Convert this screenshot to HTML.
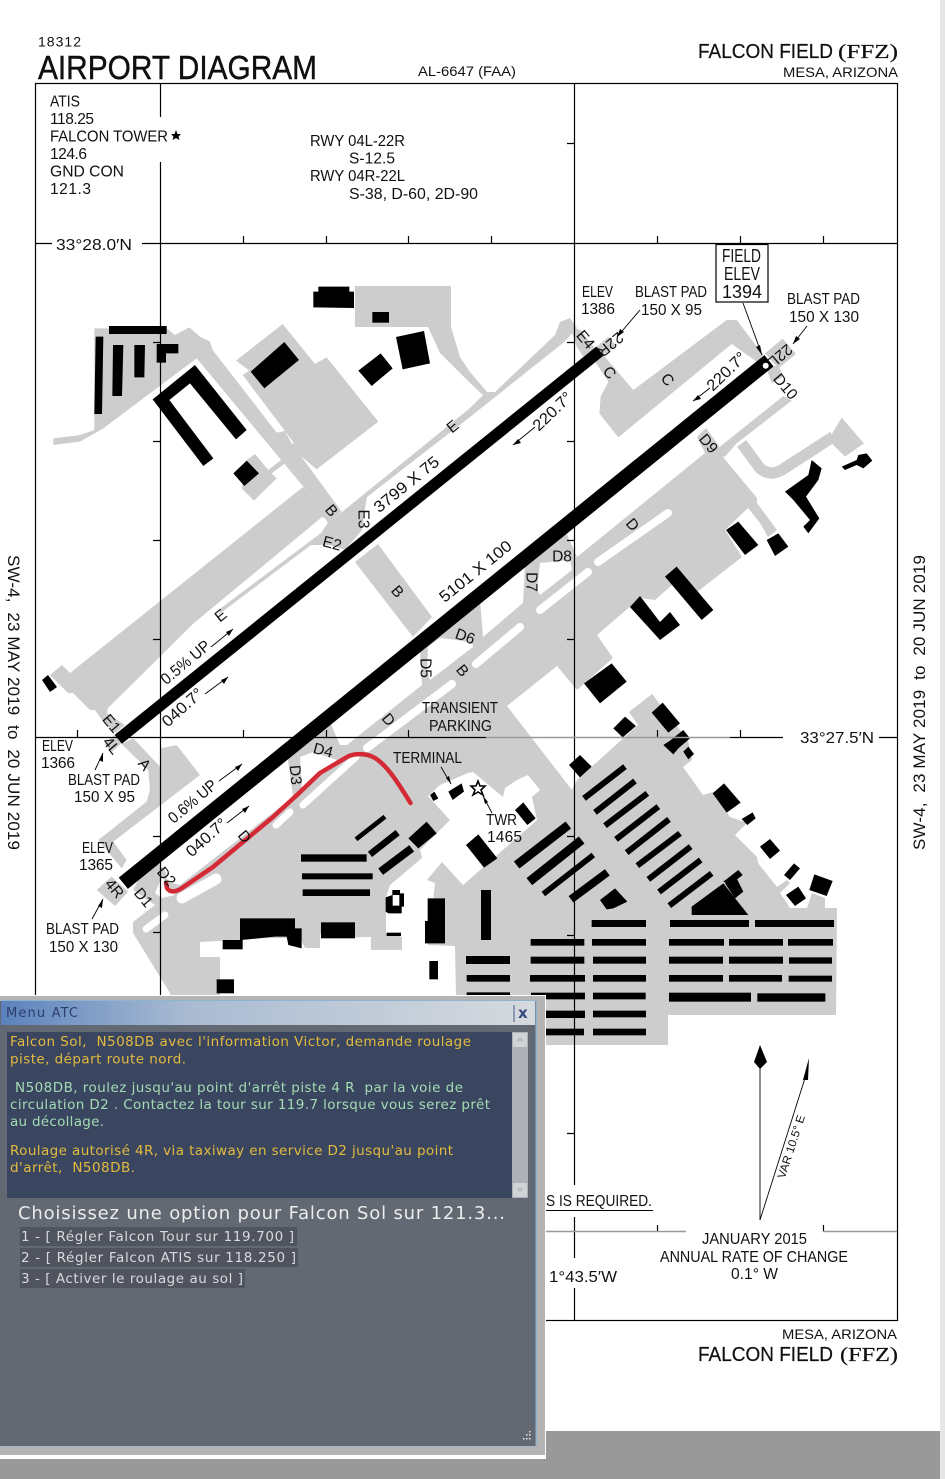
<!DOCTYPE html>
<html><head><meta charset="utf-8"><style>
html,body{margin:0;padding:0;background:#fff}
svg{display:block}
text{font-family:"Liberation Sans",sans-serif;font-size:15.5px;fill:#111}
.c{text-anchor:middle;dominant-baseline:central}
.l{font-size:15.5px;text-anchor:middle;dominant-baseline:central}
.h{stroke:#000;stroke-width:.4}
.d text{font-family:"DejaVu Sans",sans-serif;font-size:13.5px;white-space:pre}
.y{fill:#e3bb3e}.g{fill:#a3dcb4}
.o{fill:#d9dade}
</style></head><body>
<svg xmlns="http://www.w3.org/2000/svg" width="945" height="1479" viewBox="0 0 945 1479">
<defs><linearGradient id="tb" x1="0" x2="1" y1="0" y2="0"><stop offset="0" stop-color="#5b82bd"/><stop offset=".35" stop-color="#a9bbd2"/><stop offset="1" stop-color="#d6dade"/></linearGradient></defs>
<rect width="945" height="1479" fill="#fff"/>
<rect x="940" y="0" width="5" height="1479" fill="#e6e6e6"/>
<rect x="0" y="1431" width="940" height="48" fill="#999"/>

<!-- gray surfaces -->
<g fill="#cdcdcd">
<g transform="translate(0,240) scale(.33333)">
<polygon points="283,265 500,265 525,285 568,262 600,290 630,305 638,330 830,578 855,573 875,610 1025,815 985,850 910,740 590,355 310,565 240,605 160,615 160,595 240,585 283,570"/>
<polygon points="708,362 848,252 945,372 980,352 1135,545 950,688 875,625 880,607 855,573 728,405 748,392"/>
<polygon points="740,660 765,642 805,690 845,658 855,670 815,700 830,715 762,782 725,745"/>
</g>
<polygon points="355,286 451,286 451,327 460,357 470,372 487,392 495,392 555,335 560,322 570,318 577,328 563,343 470,417 367,497 365,508 362,530 345,550 330,545 311,545 218,615 221,608 321,533 328,523 342,512 470,408 483,395 470,383 440,353 428,327 355,327"/>
<polygon points="303,487 70,673 62,665 50,675 68,693 73,693 90,710 95,710 102,720 115,733 125,725 107,713 108,708 194,623 322,517 328,519 327,527 335,525"/>
<polygon points="355,562 378,544 432,617 413,637"/>
<line x1="600" y1="351" x2="612" y2="341" stroke="#cdcdcd" stroke-width="11"/>
<line x1="118" y1="739" x2="108" y2="748" stroke="#cdcdcd" stroke-width="11"/>
<g transform="translate(470,240) scale(.33333)">
<polygon points="375,365 400,345 490,450 770,240 800,240 880,345 860,365 785,312 445,592 388,520 392,470 415,425"/>
<polygon points="300,260 330,270 375,325 340,350 320,320"/>
<polygon points="885,340 938,296 978,342 925,385"/>
<polygon points="890,385 925,375 940,410 905,430"/>
<polygon points="940,468 965,482 800,610 765,650 745,650 735,632"/>
<path d="M815,610 L870,685 Q900,710 935,690 L1090,590" fill="none" stroke="#cdcdcd" stroke-width="34"/>
<polygon points="1115,533 1182,610 1125,650 1075,600"/>
</g>
<g transform="translate(0,620) scale(.33333)">
<polygon points="365,372 400,355 480,440 480,385 530,375 600,465 340,665 380,720 365,745 295,660 440,545 450,510 445,450"/>
<polygon points="290,810 335,770 385,815 345,858"/>
</g>
<polygon points="170,1045 170,993 133,933 133,922 155,905 133,890 142,873 157,862 165,870 168,882 180,885 293,797 288,760 297,748 330,722 340,745 347,745 422,685 420,650 480,600 483,637 523,603 525,565 565,530 577,557 705,453 697,437 706,428 719,446 718,455 723,457 757,498 757,503 777,530 768,537 760,523 748,508 725,530 742,557 697,592 672,585 655,600 640,598 597,635 613,658 577,690 557,666 507,706 572,790 577,780 638,725 629,712 652,694 670,717 680,730 687,735 692,760 683,767 703,795 713,792 730,817 747,823 735,835 757,857 758,863 777,887 787,880 790,883 780,893 790,908 807,908 812,893 825,898 825,908 837,908 836,1015 668,1015 668,1045"/>
</g>

<!-- white islands -->
<g fill="#fff">
<polygon points="450,820 428,796 440,785 468,773 473,772 503,797 505,788 517,780 528,775 540,790 532,797 537,820 528,828 463,885 442,862 427,880 435,883 428,945 455,946 456,1000 220,1000 220,957 200,957 200,942 270,938 300,938 305,948 320,948 320,933 322,938 371,937 371,950 402,950 402,937 386,933 386,897 390,885 422,858 420,850"/>
<polygon points="302,790 300,757 313,752 337,760"/>
<polygon points="428,647 440,638 457,640 472,643 473,647 430,680 427,670"/>
<polygon points="540,563 570,560 572,570 540,595 537,590"/>
<polygon points="155,893 162,877 167,883 175,895 162,898"/>
</g>
<g fill="none" stroke="#fff" stroke-linecap="round">
<path stroke-width="11" d="M182,898 L216,879"/>
<path stroke-width="7" d="M146,929 L165,915"/>
<path stroke-width="7" d="M276,825 L290,812"/>
<path stroke-width="7" d="M303,805 L356,757"/>
<path stroke-width="8" d="M367,748 L452,684"/>
<path stroke-width="8" d="M476,664 L520,627"/>
<path stroke-width="8" d="M540,610 L588,572"/>
<path stroke-width="8" d="M598,562 L668,513"/>
</g>

<!-- black buildings -->
<g fill="#000">
<g transform="translate(0,240) scale(.33333)">
<rect x="327" y="258" width="173" height="24"/>
<polygon points="287,290 310,290 306,522 283,522"/>
<polygon points="339,315 370,315 366,468 337,468"/>
<polygon points="403,315 435,315 433,412 403,412"/>
<polygon points="470,312 535,312 535,340 498,340 498,368 470,368"/>
<polygon points="585,375 740,570 708,598 570,430 508,480 640,655 610,678 458,478"/>
<polygon points="853,306 897,360 793,445 752,395"/>
<polygon points="740,662 777,700 733,738 700,700"/>
<polygon points="955,140 1048,140 1048,155 1062,155 1062,204 940,202 940,155 955,155"/>
<rect x="1117" y="216" width="50" height="32"/>
<polygon points="1142,340 1178,385 1115,438 1075,392"/>
<polygon points="1188,291 1272,273 1290,370 1208,388"/>
</g>
<g transform="translate(470,240) scale(.33333)">
<polygon points="1115,680 1160,660 1165,645 1190,640 1207,662 1180,685 1160,675 1125,690"/>
<polygon points="945,755 1015,705 1025,660 1055,685 1045,720 1008,770 1048,835 1015,880 1000,860 1020,840 970,780"/>
<polygon points="805,845 865,915 825,945 768,870"/>
<polygon points="890,900 925,880 955,920 915,948"/>
<polygon points="620,980 730,1110 695,1140 585,1010"/>
</g>
<polygon points="630,607 640,596 660,622 670,612 680,625 660,640"/>
<polygon points="42,680 48,675 57,687 50,692"/>
<g transform="translate(470,620) scale(.33333)">
<polygon points="425,130 470,185 390,250 342,190"/>
<polygon points="465,290 498,318 458,352 430,325"/>
<polygon points="578,248 630,310 595,338 545,278"/>
<polygon points="640,330 660,355 625,385 610,403 580,375 600,362"/>
<polygon points="655,380 672,402 655,418 640,395"/>
<polygon points="330,405 365,440 330,472 297,435"/>
<polygon points="762,490 812,548 770,578 728,520"/>
<polygon points="848,577 857,595 832,615 815,597"/>
<polygon points="900,657 930,692 900,717 870,680"/>
<polygon points="972,730 990,745 960,780 942,765"/>
<polygon points="985,800 1008,835 975,858 948,825"/>
<polygon points="1033,763 1088,783 1070,828 1018,810"/>
<polygon points="390,840 435,805 472,845 430,865 410,868"/>
<polygon points="135,570 160,547 197,595 172,615"/>
<polygon points="665,860 760,790 835,885 665,885"/>
<polygon points="760,785 805,750 818,765 780,795"/>
<polygon points="765,790 800,775 820,815 795,835"/>
<rect x="33" y="810" width="30" height="150"/>
<g stroke="#000" stroke-width="18" fill="none">
<line x1="342" y1="535" x2="465" y2="440"/><line x1="375" y1="577" x2="495" y2="483"/>
<line x1="405" y1="617" x2="532" y2="520"/><line x1="438" y1="658" x2="565" y2="560"/>
<line x1="470" y1="698" x2="597" y2="598"/><line x1="502" y1="737" x2="630" y2="640"/>
<line x1="535" y1="778" x2="662" y2="680"/><line x1="567" y1="816" x2="692" y2="720"/>
<line x1="598" y1="857" x2="725" y2="760"/>
<line x1="140" y1="735" x2="295" y2="615" stroke-width="27"/>
<line x1="178" y1="785" x2="335" y2="660" stroke-width="27"/>
<line x1="220" y1="822" x2="370" y2="705" stroke-width="17"/>
<line x1="303" y1="838" x2="412" y2="757" stroke-width="24"/>
</g>
<rect x="365" y="900" width="163" height="21"/><rect x="600" y="900" width="237" height="21"/><rect x="855" y="900" width="237" height="21"/>
<rect x="182" y="957" width="161" height="20"/><rect x="366" y="957" width="162" height="20"/><rect x="597" y="957" width="165" height="20"/><rect x="777" y="957" width="162" height="20"/><rect x="954" y="957" width="135" height="20"/>
<rect x="-5" y="1010" width="125" height="21"/><rect x="182" y="1010" width="161" height="21"/><rect x="369" y="1010" width="159" height="21"/><rect x="597" y="1010" width="162" height="21"/><rect x="777" y="1010" width="162" height="21"/><rect x="957" y="1012" width="129" height="19"/>
<rect x="-5" y="1065" width="125" height="20"/><rect x="180" y="1065" width="165" height="20"/><rect x="369" y="1065" width="159" height="20"/><rect x="597" y="1065" width="162" height="20"/><rect x="777" y="1065" width="159" height="20"/><rect x="956" y="1067" width="130" height="18"/>
<rect x="597" y="1118" width="246" height="27"/><rect x="862" y="1120" width="204" height="25"/>
<rect x="183" y="1118" width="162" height="20"/><rect x="369" y="1118" width="158" height="20"/>
<rect x="228" y="1172" width="117" height="22"/><rect x="369" y="1172" width="159" height="20"/>
<rect x="228" y="1226" width="114" height="20"/><rect x="369" y="1226" width="159" height="20"/>
</g>
<g transform="translate(0,620) scale(.33333)">
<rect x="903" y="703" width="197" height="22"/><rect x="906" y="760" width="212" height="18"/><rect x="908" y="808" width="202" height="20"/>
<g stroke="#000" fill="none">
<line x1="1068" y1="658" x2="1155" y2="590" stroke-width="14"/>
<line x1="1110" y1="703" x2="1193" y2="638" stroke-width="20"/>
<line x1="1142" y1="755" x2="1235" y2="685" stroke-width="24"/>
</g>
<polygon points="1225,655 1280,605 1310,640 1255,685"/>
<polygon points="1290,525 1303,515 1315,535 1300,543"/>
<polygon points="1345,515 1385,490 1392,515 1358,540"/>
<polygon points="720,895 885,895 885,925 905,925 905,985 865,975 860,950 825,950 725,960 720,960"/>
<rect x="668" y="960" width="60" height="28"/>
<rect x="963" y="907" width="102" height="48"/>
<rect x="650" y="1078" width="52" height="42"/>
</g>
<g transform="translate(340,760) scale(.33333)">
<polygon points="378,255 415,223 472,295 432,323"/>
<polygon points="263,415 315,415 315,550 255,550 255,483 263,483"/>
<rect x="268" y="603" width="26" height="55"/>
<rect x="140" y="518" width="43" height="10"/>
<polygon points="157,390 180,390 180,400 192,400 192,440 185,440 185,460 145,460 137,455 137,412 157,405"/>
<rect x="158" y="405" width="20" height="32" fill="#fff"/>
<rect x="378" y="588" width="132" height="24"/>
<rect x="380" y="645" width="130" height="19"/>
<rect x="380" y="697" width="130" height="10"/>
</g>
</g>

<!-- runways -->
<line x1="118.3" y1="739.3" x2="600" y2="351" stroke="#000" stroke-width="11.5"/>
<line x1="123.3" y1="883.3" x2="769" y2="360.7" stroke="#000" stroke-width="14.5"/>
<circle cx="765.7" cy="365.7" r="3" fill="#fff"/>

<!-- grid frame -->
<g stroke="#000" stroke-width="1.2" fill="none">
<rect x="35.5" y="83.5" width="862" height="1237"/>
<path d="M160.5,83V117 M160.5,162V1320"/>
<path d="M574.5,84V1185 M574.5,1217V1258 M574.5,1288V1320"/>
<path d="M36,243.5H52 M142,243.5H897"/>
<path d="M36,737.5H486 M730,737.5H783 M879,737.5H897"/>
<path d="M243.5,236V243 M326.5,236V243 M408.5,236V243 M491.5,236V243 M657.5,236V243 M740.5,236V243 M823.5,236V243"/>
<path d="M77.5,730V737 M243.5,730V737 M326.5,730V737 M408.5,730V737 M657.5,730V737 M740.5,730V737"/>
<path d="M153,342.5H160 M153,441.5H160 M153,540.5H160 M153,639.5H160 M153,836.5H160 M153,932.5H160"/>
<path d="M567,143.5H574 M567,342.5H574 M567,441.5H574 M567,540.5H574 M567,639.5H574 M567,836.5H574 M567,935.5H574 M567,1133.5H574"/>
<path d="M657.5,1225V1232 M823.5,1225V1232"/>
</g>
<line x1="486" y1="737.5" x2="730" y2="737.5" stroke="#999" stroke-width="1.5"/>
<path d="M546,1231.5H686 M823,1231.5H897" stroke="#999" stroke-width="1.6" fill="none"/>

<!-- red taxi path -->
<path d="M410.5,803 C400,786 388,766 375,758 C365,752 352,754 347,757 L320,773 L297,795 L273,817 L243,842 L213,867 L182,888 C176,892 170,893 167,888 L166,883" fill="none" stroke="#d42a35" stroke-width="4.5" stroke-linecap="round" stroke-linejoin="round"/>

<!-- thin arrows -->
<g stroke="#000" stroke-width=".9" fill="none">
<line x1="743" y1="303" x2="762" y2="355"/><line x1="640" y1="310" x2="617" y2="337"/><line x1="807" y1="326" x2="793" y2="344"/>
<line x1="535" y1="427" x2="513" y2="445"/><line x1="710" y1="388" x2="693" y2="401"/>
<line x1="211" y1="647" x2="233" y2="629"/><line x1="205" y1="694" x2="228" y2="677"/>
<line x1="219" y1="781" x2="242" y2="764"/><line x1="227" y1="823" x2="249" y2="806"/>
<line x1="95" y1="770" x2="103" y2="753"/><line x1="92" y1="919" x2="103" y2="899"/>
<line x1="441" y1="767" x2="451" y2="784"/><line x1="492" y1="813" x2="483" y2="796"/>
<line x1="760" y1="1220" x2="760" y2="1060"/><line x1="760" y1="1220" x2="806" y2="1075"/>
</g>
<g fill="#000">
<polygon points="762,355 756,347 760,345"/><polygon points="617,337 620,329 624,332"/><polygon points="793,344 796,336 800,339"/>
<polygon points="513,445 518,439 521,443"/><polygon points="693,401 698,395 701,399"/>
<polygon points="233,629 226,632 229,636"/><polygon points="228,677 221,680 224,684"/>
<polygon points="242,764 235,767 238,771"/><polygon points="249,806 242,809 245,813"/>
<polygon points="103,753 99,760 103,762"/><polygon points="103,899 98,906 102,908"/>
<polygon points="451,784 446,778 449,776"/><polygon points="483,796 488,802 485,804"/>
<polygon points="760,1045 767,1062 760,1069 754,1062"/>
<polygon points="809,1058 808,1080 803,1080"/>
</g>
<polygon points="478,781 480,786 485,786 481,790 483,795 478,792 473,795 475,790 471,786 476,786" fill="#fff" stroke="#000" stroke-width="1.6"/>
<polygon points="176,130 177.5,134 181,134 178.5,136.5 179.5,140 176,138 172.5,140 173.5,136.5 171,134 174.5,134" fill="#000"/>

<!-- field elev box -->
<rect x="716" y="244.5" width="52" height="57.5" fill="#fff" stroke="#000" stroke-width="1.2"/>

<!-- header text -->
<text x="38" y="46.5" style="font-size:14px" textLength="43">18312</text>
<text class="h" x="38" y="79" style="font-size:33.5px" textLength="279" lengthAdjust="spacingAndGlyphs">AIRPORT DIAGRAM</text>
<text x="418" y="76" style="font-size:14px" textLength="98" lengthAdjust="spacingAndGlyphs">AL-6647 (FAA)</text>
<text class="h" x="698" y="58" style="font-size:20px;stroke-width:.2" textLength="135" lengthAdjust="spacingAndGlyphs">FALCON FIELD</text>
<text class="h" x="838" y="58" style="font-size:20px;stroke-width:.2;font-family:'Liberation Serif',serif" textLength="60" lengthAdjust="spacingAndGlyphs">(FFZ)</text>
<text x="783" y="77" style="font-size:14px" textLength="115" lengthAdjust="spacingAndGlyphs">MESA, ARIZONA</text>
<text x="782" y="1339" style="font-size:14px" textLength="115" lengthAdjust="spacingAndGlyphs">MESA, ARIZONA</text>
<text class="h" x="698" y="1361" style="font-size:20px;stroke-width:.2" textLength="135" lengthAdjust="spacingAndGlyphs">FALCON FIELD</text>
<text class="h" x="840" y="1361" style="font-size:20px;stroke-width:.2;font-family:'Liberation Serif',serif" textLength="58" lengthAdjust="spacingAndGlyphs">(FFZ)</text>

<text x="50" y="106.5" textLength="30" lengthAdjust="spacingAndGlyphs">ATIS</text>
<text x="50" y="124" textLength="44">118.25</text>
<text x="50" y="141.5" textLength="118" lengthAdjust="spacingAndGlyphs">FALCON TOWER</text>
<text x="50" y="159" textLength="37">124.6</text>
<text x="50" y="176.5" textLength="74" lengthAdjust="spacingAndGlyphs">GND CON</text>
<text x="50" y="194" textLength="41">121.3</text>
<text x="310" y="146" textLength="95" lengthAdjust="spacingAndGlyphs">RWY 04L-22R</text>
<text x="349" y="163.5" textLength="46">S-12.5</text>
<text x="310" y="181" textLength="95" lengthAdjust="spacingAndGlyphs">RWY 04R-22L</text>
<text x="349" y="199" textLength="129" lengthAdjust="spacingAndGlyphs">S-38, D-60, 2D-90</text>
<text x="56" y="250" textLength="76" lengthAdjust="spacingAndGlyphs">33°28.0′N</text>
<text x="800" y="743" textLength="74" lengthAdjust="spacingAndGlyphs">33°27.5′N</text>

<text transform="translate(8,555) rotate(90)" style="font-size:17px;white-space:pre" textLength="295">SW-4,  23 MAY 2019  to  20 JUN 2019</text>
<text transform="translate(925,850) rotate(-90)" style="font-size:17px;white-space:pre" textLength="295">SW-4,  23 MAY 2019  to  20 JUN 2019</text>

<!-- chart labels -->
<text x="582" y="297" textLength="31" lengthAdjust="spacingAndGlyphs">ELEV</text>
<text x="581" y="314" textLength="34">1386</text>
<text x="635" y="297" textLength="72" lengthAdjust="spacingAndGlyphs">BLAST PAD</text>
<text x="641" y="315" textLength="61" lengthAdjust="spacingAndGlyphs">150 X 95</text>
<text x="722" y="262" style="font-size:18px" textLength="39" lengthAdjust="spacingAndGlyphs">FIELD</text>
<text x="724" y="280" style="font-size:18px" textLength="36" lengthAdjust="spacingAndGlyphs">ELEV</text>
<text x="722" y="298" style="font-size:18px" textLength="40">1394</text>
<text x="787" y="304" textLength="73" lengthAdjust="spacingAndGlyphs">BLAST PAD</text>
<text x="789" y="322" textLength="70" lengthAdjust="spacingAndGlyphs">150 X 130</text>
<text x="42" y="751" textLength="31" lengthAdjust="spacingAndGlyphs">ELEV</text>
<text x="41" y="768" textLength="34">1366</text>
<text x="68" y="785" textLength="72" lengthAdjust="spacingAndGlyphs">BLAST PAD</text>
<text x="74" y="802" textLength="61" lengthAdjust="spacingAndGlyphs">150 X 95</text>
<text x="82" y="853" textLength="31" lengthAdjust="spacingAndGlyphs">ELEV</text>
<text x="79" y="870" textLength="34">1365</text>
<text x="46" y="934" textLength="73" lengthAdjust="spacingAndGlyphs">BLAST PAD</text>
<text x="49" y="952" textLength="69" lengthAdjust="spacingAndGlyphs">150 X 130</text>
<text x="422" y="713" textLength="76" lengthAdjust="spacingAndGlyphs">TRANSIENT</text>
<text x="429" y="731" textLength="63" lengthAdjust="spacingAndGlyphs">PARKING</text>
<text x="393" y="763" textLength="69" lengthAdjust="spacingAndGlyphs">TERMINAL</text>
<text x="486" y="825" textLength="31" lengthAdjust="spacingAndGlyphs">TWR</text>
<text x="487" y="842" textLength="35">1465</text>

<!-- rotated runway texts -->
<text class="c" transform="translate(407,485) rotate(-39)" style="font-size:16px" textLength="79" lengthAdjust="spacingAndGlyphs">3799 X 75</text>
<text class="c" transform="translate(476,572) rotate(-39)" style="font-size:16px" textLength="88" lengthAdjust="spacingAndGlyphs">5101 X 100</text>
<text class="c" transform="translate(553,412) rotate(-44)" style="font-size:16px" textLength="48" lengthAdjust="spacingAndGlyphs">220.7°</text>
<text class="c" transform="translate(727,372) rotate(-44)" style="font-size:16px" textLength="48" lengthAdjust="spacingAndGlyphs">220.7°</text>
<text class="c" transform="translate(186,663) rotate(-40)" style="font-size:16px" textLength="59" lengthAdjust="spacingAndGlyphs">0.5% UP</text>
<text class="c" transform="translate(183,708) rotate(-42)" style="font-size:16px" textLength="49" lengthAdjust="spacingAndGlyphs">040.7°</text>
<text class="c" transform="translate(193,802) rotate(-40)" style="font-size:16px" textLength="58" lengthAdjust="spacingAndGlyphs">0.6% UP</text>
<text class="c" transform="translate(207,838) rotate(-42)" style="font-size:16px" textLength="49" lengthAdjust="spacingAndGlyphs">040.7°</text>

<text class="l" transform="translate(453,427) rotate(-39)">E</text>
<text class="l" transform="translate(221,616) rotate(-39)">E</text>
<text class="l" transform="translate(331,511) rotate(50)">B</text>
<text class="l" transform="translate(397,592) rotate(50)">B</text>
<text class="l" transform="translate(462,671) rotate(50)">B</text>
<text class="l" transform="translate(363,519) rotate(90)">E3</text>
<text class="l" transform="translate(332,544) rotate(15)">E2</text>
<text class="l" transform="translate(111,724) rotate(50)">E1</text>
<text class="l" transform="translate(585,340) rotate(50)">E4</text>
<text class="l" transform="translate(111,746) rotate(50)">4L</text>
<text class="l" transform="translate(144,765) rotate(50)">A</text>
<text class="l" transform="translate(114,889) rotate(50)">4R</text>
<text class="l" transform="translate(143,898) rotate(50)">D1</text>
<text class="l" transform="translate(166,877) rotate(50)">D2</text>
<text class="l" transform="translate(244,837) rotate(50)">D</text>
<text class="l" transform="translate(295,775) rotate(85)">D3</text>
<text class="l" transform="translate(323,751) rotate(15)">D4</text>
<text class="l" transform="translate(425,668) rotate(90)">D5</text>
<text class="l" transform="translate(465,637) rotate(20)">D6</text>
<text class="l" transform="translate(531,582) rotate(90)">D7</text>
<text class="l" transform="translate(562,557)">D8</text>
<text class="l" transform="translate(708,444) rotate(50)">D9</text>
<text class="l" transform="translate(785,387) rotate(50)">D10</text>
<text class="l" transform="translate(632,525) rotate(50)">D</text>
<text class="l" transform="translate(388,720) rotate(50)">D</text>
<text class="l" transform="translate(609,373) rotate(50)">C</text>
<text class="l" transform="translate(667,380) rotate(50)">C</text>
<text class="l" transform="translate(610,344) rotate(140)">22R</text>
<text class="l" transform="translate(780,355) rotate(140)">22L</text>

<!-- lower right -->
<text x="546" y="1206" textLength="106" lengthAdjust="spacingAndGlyphs">S IS REQUIRED.</text>
<line x1="546" y1="1210.5" x2="653" y2="1210.5" stroke="#000" stroke-width="1"/>
<text x="549" y="1282" textLength="68" lengthAdjust="spacingAndGlyphs">1°43.5′W</text>
<text x="702" y="1244" textLength="105" lengthAdjust="spacingAndGlyphs">JANUARY 2015</text>
<text x="660" y="1262" textLength="188" lengthAdjust="spacingAndGlyphs">ANNUAL RATE OF CHANGE</text>
<text x="731" y="1279" textLength="47" lengthAdjust="spacingAndGlyphs">0.1° W</text>
<text class="c" transform="translate(792,1147) rotate(-72)" style="font-size:11.5px" textLength="66" lengthAdjust="spacingAndGlyphs">VAR 10.5° E</text>

<!-- ATC dialog -->
<g class="d">
<rect x="0" y="995" width="546" height="464" fill="#fff"/>
<rect x="0" y="996" width="545" height="459" fill="#b4b4b4"/>
<rect x="0" y="1000" width="537" height="446.5" fill="#8fb4d0" rx="3"/>
<rect x="0" y="1001" width="535.5" height="445" fill="#636973"/>
<rect x="1" y="1001" width="534" height="24" fill="url(#tb)"/>
<line x1="514" y1="1005" x2="514" y2="1022" stroke="#3f5a8a" stroke-width="1"/>
<text x="6" y="1017" style="font-size:13px;fill:#2b3e6c" textLength="72">Menu ATC</text>
<text x="518" y="1018" style="font-size:15px;font-weight:bold;fill:#34497d">x</text>
<rect x="7" y="1032" width="505" height="166" fill="#3a4560"/>
<rect x="512" y="1032" width="16" height="166" fill="#aeb2b8"/>
<rect x="513" y="1033" width="14" height="14" fill="#d0d3d6"/><rect x="513" y="1183" width="14" height="14" fill="#d0d3d6"/>
<polygon points="520,1037 524,1041 516,1041" fill="#b8bcc0"/><polygon points="520,1192 524,1188 516,1188" fill="#b8bcc0"/>

<text class="y" x="10" y="1046" textLength="461">Falcon Sol,  N508DB avec l'information Victor, demande roulage</text>
<text class="y" x="10" y="1063.5" textLength="176">piste, départ route nord.</text>
<text class="g" x="15" y="1092" textLength="448">N508DB, roulez jusqu'au point d'arrêt piste 4 R  par la voie de</text>
<text class="g" x="10" y="1109" textLength="480">circulation D2 . Contactez la tour sur 119.7 lorsque vous serez prêt</text>
<text class="g" x="10" y="1126" textLength="94">au décollage.</text>
<text class="y" x="10" y="1155" textLength="443">Roulage autorisé 4R, via taxiway en service D2 jusqu'au point</text>
<text class="y" x="10" y="1172" textLength="125">d'arrêt,  N508DB.</text>

<text x="18" y="1219" style="font-size:18px;fill:#ececec" textLength="487">Choisissez une option pour Falcon Sol sur 121.3...</text>
<rect x="20" y="1227" width="277" height="19" fill="#50545e"/>
<rect x="20" y="1248" width="278" height="19" fill="#50545e"/>
<rect x="20" y="1269" width="225" height="19" fill="#50545e"/>
<text class="o" x="21" y="1241" textLength="273">1 - [ Régler Falcon Tour sur 119.700 ]</text>
<text class="o" x="21" y="1262" textLength="275">2 - [ Régler Falcon ATIS sur 118.250 ]</text>
<text class="o" x="21" y="1283" textLength="222">3 - [ Activer le roulage au sol ]</text>
<g fill="#e8e8e8">
<rect x="529" y="1431" width="1.5" height="1.5"/>
<rect x="526" y="1434" width="1.5" height="1.5"/><rect x="529" y="1434" width="1.5" height="1.5"/>
<rect x="523" y="1438" width="1.5" height="1.5"/><rect x="526" y="1438" width="1.5" height="1.5"/><rect x="529" y="1438" width="1.5" height="1.5"/>
</g>
</g>
</svg>
</body></html>
